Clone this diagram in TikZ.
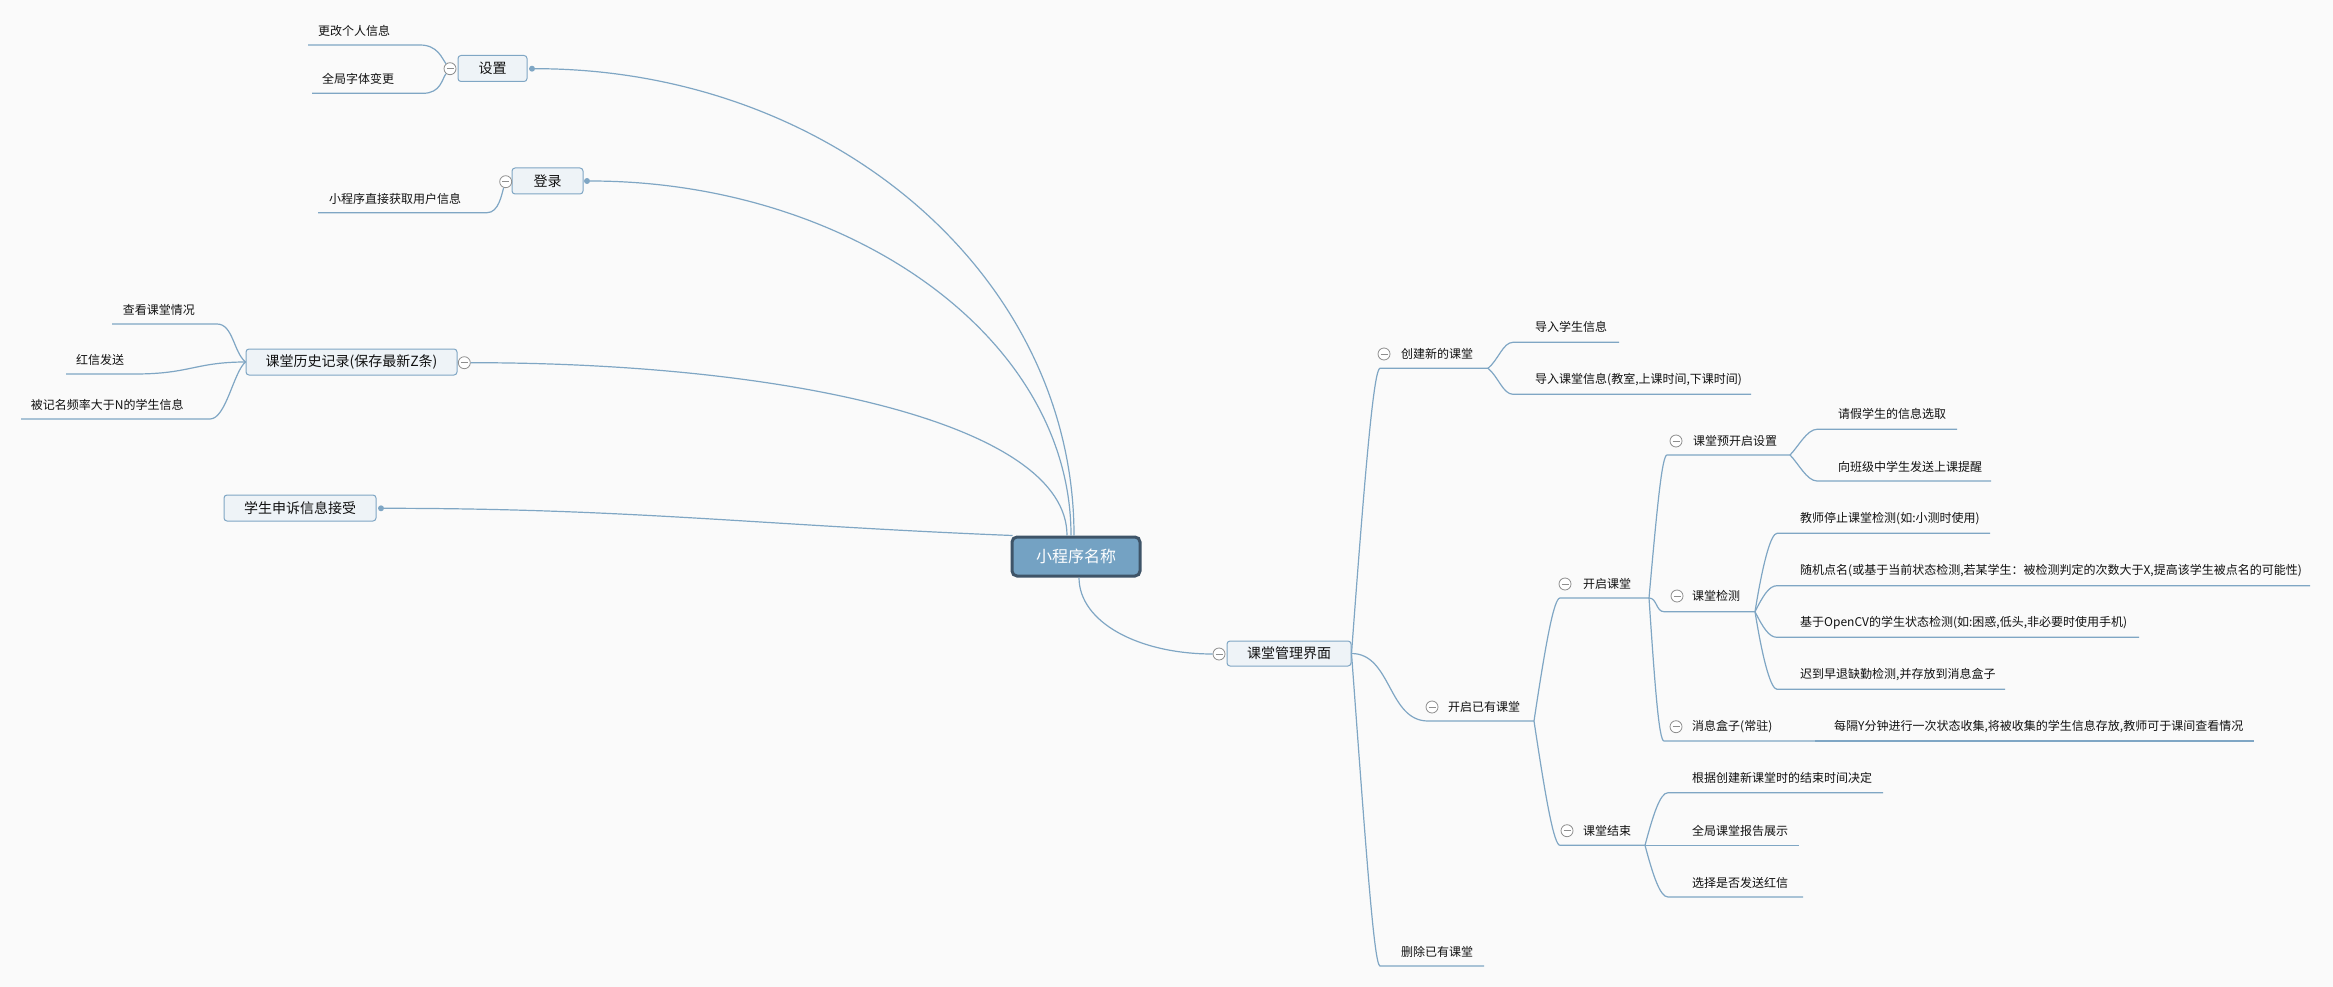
\documentclass[tikz,border=0pt]{standalone}
\usepackage{fontspec}
\setmainfont{Noto Sans CJK SC}
\usetikzlibrary{calc}

\definecolor{linecol}{HTML}{7FA6C4}
\definecolor{boxfill}{HTML}{EEF3F7}
\definecolor{rootfill}{HTML}{74A2C3}
\definecolor{rootline}{HTML}{3E5468}
\definecolor{bgcol}{HTML}{FAFAFA}
\definecolor{foldcol}{HTML}{8E8E8E}
\definecolor{textcol}{HTML}{111111}

\begin{document}
\begin{tikzpicture}[
		x = 1pt, y = -1pt, % pixel grid, y going down
		conn/.style = {draw=linecol, line width=1.2pt},
		rootbox/.style = {draw=rootline, fill=rootfill, line width=3pt, rounded corners=5pt,
			minimum width=128pt, minimum height=39pt, text=white, font=\fontsize{16}{18}\selectfont},
		topic/.style = {draw=linecol, fill=boxfill, line width=1pt, rounded corners=3pt,
			minimum height=26pt, text=textcol, font=\fontsize{14}{16}\selectfont},
		leaf/.style = {anchor=west, inner sep=0pt, text=textcol, font=\fontsize{12}{14}\selectfont},
		dot/.style = {circle, fill=linecol, minimum size=6pt, inner sep=0pt}
		]
		
		\tikzstyle{fold}=[
		circle,
		draw = foldcol,
		fill = white,
		line width = 0.8pt,
		minimum size = 12pt,
		inner sep = 0pt,
		path picture = {\draw[foldcol, line width=0.8pt]
			([xshift=-3.5pt]path picture bounding box.center) -- ([xshift=3.5pt]path picture bounding box.center);}
		]
		
		\fill[bgcol] (0,0) rectangle (2333,987);
		\useasboundingbox (0,0) rectangle (2333,987);
		
		% centre
		\node[rootbox] (root) at (1076,556.5) {小程序名称};
		
		% left side
		\node[topic, minimum width=69pt] (setting) at (492.5,68.5) {设置};
		\node[fold] (settingfold) at (450,68.7) {};
		\node[dot] (settingdot) at (532,68.7) {};
		\node[leaf] (profile) at (318,30.7) {更改个人信息};
		\node[leaf] (fontsize) at (322,79) {全局字体变更};
		\coordinate (profileL) at (308,45);     \coordinate (profileR) at (420,45);
		\coordinate (fontsizeL) at (312,93.3);  \coordinate (fontsizeR) at (423,93.3);
		
		\node[topic, minimum width=71pt] (login) at (547.5,181) {登录};
		\node[fold] (loginfold) at (505.7,181.7) {};
		\node[dot] (logindot) at (587,181) {};
		\node[leaf] (userinfo) at (329,199.3) {小程序直接获取用户信息};
		\coordinate (userinfoL) at (318,212.7); \coordinate (userinfoR) at (487,212.7);
		
		\node[topic, minimum width=211pt] (history) at (351.5,362) {课堂历史记录(保存最新Z条)};
		\node[fold] (historyfold) at (464.3,362.7) {};
		\node[leaf] (review) at (122.7,310) {查看课堂情况};
		\node[leaf] (redletter) at (76,360) {红信发送};
		\node[leaf] (frequent) at (30.7,405) {被记名频率大于N的学生信息};
		\coordinate (reviewL) at (112,324);     \coordinate (reviewR) at (217,324);
		\coordinate (redletterL) at (66,374);   \coordinate (redletterR) at (135,374);
		\coordinate (frequentL) at (21,419);    \coordinate (frequentR) at (210,419);
		
		\node[topic, minimum width=152pt] (appeal) at (300,508) {学生申诉信息接受};
		\node[dot] (appealdot) at (381,508.3) {};
		
		% right side
		\node[topic, minimum width=124pt, minimum height=25pt] (manage) at (1289,653.5) {课堂管理界面};
		\node[fold] (managefold) at (1219,654) {};
		
		\node[fold] (createfold) at (1384,354) {};
		\node[leaf] (create) at (1401,354) {创建新的课堂};
		\node[leaf] (importstu) at (1535,327.3) {导入学生信息};
		\node[leaf] (importcls) at (1535,379.3) {导入课堂信息(教室,上课时间,下课时间)};
		\coordinate (createL) at (1380,368.3);    \coordinate (createR) at (1488,368.3);
		\coordinate (importstuL) at (1513,342.3); \coordinate (importstuR) at (1619,342.3);
		\coordinate (importclsL) at (1513,394.3); \coordinate (importclsR) at (1751,394.3);
		
		\node[fold] (openfold) at (1432,707) {};
		\node[leaf] (open) at (1448,707) {开启已有课堂};
		\coordinate (openL) at (1428,721);        \coordinate (openR) at (1534,721);
		
		\node[fold] (startfold) at (1565,584) {};
		\node[leaf] (start) at (1583,584) {开启课堂};
		\coordinate (startL) at (1560,598);       \coordinate (startR) at (1649,598);
		
		\node[fold] (presetfold) at (1676,441) {};
		\node[leaf] (preset) at (1693,441) {课堂预开启设置};
		\node[leaf] (leave) at (1838,414.3) {请假学生的信息选取};
		\node[leaf] (remind) at (1838,466.7) {向班级中学生发送上课提醒};
		\coordinate (presetL) at (1667,455);      \coordinate (presetR) at (1790,455);
		\coordinate (leaveL) at (1817,429.3);     \coordinate (leaveR) at (1957,429.3);
		\coordinate (remindL) at (1817,481);      \coordinate (remindR) at (1991,481);
		
		\node[fold] (detectfold) at (1677,596) {};
		\node[leaf] (detect) at (1692,596) {课堂检测};
		\node[leaf] (stop) at (1800,519) {教师停止课堂检测(如:小测时使用)};
		\node[leaf] (rollcall) at (1800,571) {随机点名(或基于当前状态检测,若某学生：被检测判定的次数大于X,提高该学生被点名的可能性)};
		\node[leaf] (opencv) at (1800,622.7) {基于OpenCV的学生状态检测(如:困惑,低头,非必要时使用手机)};
		\node[leaf] (late) at (1800,675) {迟到早退缺勤检测,并存放到消息盒子};
		\coordinate (detectL) at (1664,611.7);    \coordinate (detectR) at (1755,611.7);
		\coordinate (stopL) at (1777,533.3);      \coordinate (stopR) at (1990,533.3);
		\coordinate (rollcallL) at (1777,585.7);  \coordinate (rollcallR) at (2310,585.7);
		\coordinate (opencvL) at (1777,637.3);    \coordinate (opencvR) at (2139,637.3);
		\coordinate (lateL) at (1777,689.3);      \coordinate (lateR) at (2005,689.3);
		
		\node[fold] (msgboxfold) at (1676,726.7) {};
		\node[leaf] (msgbox) at (1692,726.7) {消息盒子(常驻)};
		\node[leaf] (collect) at (1834,726.7) {每隔Y分钟进行一次状态收集,将被收集的学生信息存放,教师可于课间查看情况};
		\coordinate (msgboxL) at (1664,741);      \coordinate (msgboxR) at (1815,741);
		\coordinate (collectR) at (2254,741);
		
		\node[fold] (endfold) at (1567,830.7) {};
		\node[leaf] (end) at (1583,830.7) {课堂结束};
		\node[leaf] (basis) at (1692,778.3) {根据创建新课堂时的结束时间决定};
		\node[leaf] (report) at (1692,830.7) {全局课堂报告展示};
		\node[leaf] (choose) at (1692,882.7) {选择是否发送红信};
		\coordinate (endL) at (1560,845.3);       \coordinate (endR) at (1645,845.3);
		\coordinate (basisL) at (1668,792.7);     \coordinate (basisR) at (1883,792.7);
		\coordinate (reportR) at (1799,845.3);
		\coordinate (chooseL) at (1668,897);      \coordinate (chooseR) at (1803,897);
		
		\node[leaf] (delete) at (1401,951.7) {删除已有课堂};
		\coordinate (deleteL) at (1380,966);      \coordinate (deleteR) at (1484,966);
		
		% centre to branches
		\draw[conn] (settingdot) .. controls +(300,0) and +(0,-260) .. ([xshift=-2pt]root.north);
		\draw[conn] (logindot) .. controls +(260,0) and +(0,-200) .. ([xshift=-5pt]root.north);
		\draw[conn] (historyfold) .. controls +(330,0) and +(0,-110) .. ([xshift=-9pt]root.north);
		\draw[conn] (appealdot) .. controls +(250,0) and +(-250,-10) .. ([xshift=2pt]root.north west);
		\draw[conn] ([xshift=3pt]root.south) .. controls +(0,45) and +(-80,0) .. (managefold);
		
		% left children
		\draw[conn] (profileL) -- (profileR) .. controls +(18,0) and +(-8,-10) .. (settingfold);
		\draw[conn] (fontsizeL) -- (fontsizeR) .. controls +(18,0) and +(-8,10) .. (settingfold);
		\draw[conn] (userinfoL) -- (userinfoR) .. controls +(12,0) and +(-4,12) .. (loginfold);
		\draw[conn] (reviewL) -- (reviewR) .. controls +(16,0) and +(-12,-10) .. (history.west);
		\draw[conn] (redletterL) -- (redletterR) .. controls +(55,0) and +(-50,0) .. (history.west);
		\draw[conn] (frequentL) -- (frequentR) .. controls +(16,0) and +(-12,10) .. (history.west);
		
		% right children
		\draw[conn] (manage.east) .. controls +(14,-190) and +(-6,0) .. (createL) -- (createR);
		\draw[conn] (manage.east) .. controls +(40,0) and +(-40,0) .. (openL) -- (openR);
		\draw[conn] (manage.east) .. controls +(14,190) and +(-6,0) .. (deleteL) -- (deleteR);
		
		\draw[conn] (createR) .. controls +(10,-8) and +(-10,0) .. (importstuL) -- (importstuR);
		\draw[conn] (createR) .. controls +(10,8) and +(-10,0) .. (importclsL) -- (importclsR);
		
		\draw[conn] (openR) .. controls +(12,-80) and +(-6,0) .. (startL) -- (startR);
		\draw[conn] (openR) .. controls +(12,80) and +(-6,0) .. (endL) -- (endR);
		
		\draw[conn] (startR) .. controls +(8,-90) and +(-5,0) .. (presetL) -- (presetR);
		\draw[conn] (startR) .. controls +(8,0) and +(-8,0) .. (detectL) -- (detectR);
		\draw[conn] (startR) .. controls +(6,90) and +(-5,0) .. (msgboxL) -- (msgboxR);
		
		\draw[conn] (presetR) .. controls +(8,-8) and +(-10,0) .. (leaveL) -- (leaveR);
		\draw[conn] (presetR) .. controls +(8,8) and +(-10,0) .. (remindL) -- (remindR);
		
		\draw[conn] (detectR) .. controls +(8,-50) and +(-6,0) .. (stopL) -- (stopR);
		\draw[conn] (detectR) .. controls +(8,-16) and +(-8,0) .. (rollcallL) -- (rollcallR);
		\draw[conn] (detectR) .. controls +(8,16) and +(-8,0) .. (opencvL) -- (opencvR);
		\draw[conn] (detectR) .. controls +(8,50) and +(-6,0) .. (lateL) -- (lateR);
		
		\draw[conn] (msgboxR) -- (collectR);
		
		\draw[conn] (endR) .. controls +(8,-30) and +(-8,0) .. (basisL) -- (basisR);
		\draw[conn] (endR) -- (reportR);
		\draw[conn] (endR) .. controls +(8,30) and +(-8,0) .. (chooseL) -- (chooseR);
	\end{tikzpicture}
\end{document}
